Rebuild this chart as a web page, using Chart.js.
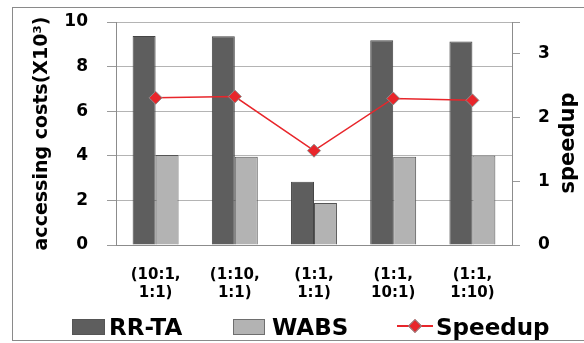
<!DOCTYPE html>
<html>
<head>
<meta charset="utf-8">
<script src="https://cdn.jsdelivr.net/npm/chart.js@4.4.1/dist/chart.umd.min.js"></script>
<style>
  body { margin: 0; background: #fff; }
  #wrap { position: relative; width: 584px; height: 343px; overflow: hidden; font-family: "DejaVu Sans", sans-serif; font-weight: bold; }
  #frame { position: absolute; left: 12px; top: 7px; width: 600px; height: 334px; border: 1px solid #8a8a8a; box-sizing: border-box; }
  canvas { position: absolute; left: 0; top: 0; }
  .lg { position: absolute; font-size: 23px; line-height: 22px; color: #000; }
  .box { position: absolute; width: 33px; height: 16px; top: 319px; }
</style>
</head>
<body>
<div id="wrap">
  <div id="frame"></div>
  <canvas id="grafico" width="584" height="343"></canvas>
  <div class="box" style="left:72px; background:#5e5e5e; border:1px solid #555; box-sizing:border-box;"></div>
  <div class="lg" style="left:109px; top:316px;">RR-TA</div>
  <div class="box" style="left:233px; width:32px; background:#b3b3b3; border:1px solid #6e6e6e; box-sizing:border-box;"></div>
  <div class="lg" style="left:272px; top:316px;">WABS</div>
  <div style="position:absolute; left:397px; top:325px; width:36px; height:2px; background:#e8262b;"></div>
  <div style="position:absolute; left:410px; top:321px; width:8px; height:8px; background:#e8262b; border:1px solid #8c8c8c; transform:rotate(45deg);"></div>
  <div class="lg" style="left:436px; top:316px;">Speedup</div>
</div>
<script>
// categorias (duas linhas por rótulo)
const categorias = [['(10:1,', '1:1)'], ['(1:10,', '1:1)'], ['(1:1,', '1:1)'], ['(1:1,', '10:1)'], ['(1:1,', '1:10)']];
// custos de acesso (x10^3)
const rrta = [9.37, 9.36, 2.84, 9.18, 9.12];
const wabs = [4.04, 3.96, 1.88, 3.96, 4.01];
// speedup (eixo direito)
const speedup = [2.31, 2.33, 1.48, 2.30, 2.27];

const fonte = 'DejaVu Sans';

// título do eixo direito, lido de baixo para cima
const tituloDireito = {
    id: 'tituloDireito',
    afterDraw(chart) {
        const ctx = chart.ctx;
        ctx.save();
        ctx.translate(569, 143);
        ctx.rotate(-Math.PI / 2);
        ctx.font = 'bold 21px "' + fonte + '"';
        ctx.fillStyle = '#000';
        ctx.textAlign = 'center';
        ctx.textBaseline = 'middle';
        ctx.fillText('speedup', 0, 0);
        ctx.restore();
    }
};

const ctx = document.getElementById('grafico').getContext('2d');
new Chart(ctx, {
    type: 'bar',
    data: {
        labels: categorias,
        datasets: [
            {
                type: 'line',
                label: 'Speedup',
                data: speedup,
                yAxisID: 'y2',
                borderColor: '#e8262b',
                backgroundColor: '#e8262b',
                borderWidth: 1.5,
                pointStyle: 'rectRot',
                pointRadius: 6.5,
                pointBackgroundColor: '#e8262b',
                pointBorderColor: '#8c8c8c',
                pointBorderWidth: 1,
                tension: 0,
                order: 0
            },
            {
                label: 'RR-TA',
                data: rrta,
                yAxisID: 'y',
                backgroundColor: '#5e5e5e',
                borderColor: '#454545',
                borderWidth: 1,
                barPercentage: 1,
                categoryPercentage: 0.58,
                order: 1
            },
            {
                label: 'WABS',
                data: wabs,
                yAxisID: 'y',
                backgroundColor: '#b3b3b3',
                borderColor: '#555555',
                borderWidth: 1,
                barPercentage: 1,
                categoryPercentage: 0.58,
                order: 1
            }
        ]
    },
    options: {
        responsive: false,
        animation: false,
        layout: { padding: { top: 22, bottom: 36, left: 0, right: 0 } },
        plugins: {
            legend: { display: false },
            tooltip: { enabled: false }
        },
        scales: {
            x: {
                grid: { display: false },
                border: { display: true, color: '#8c8c8c', width: 1 },
                ticks: {
                    color: '#000',
                    font: { family: fonte, weight: 'bold', size: 15, lineHeight: 1.2 },
                    padding: 13,
                    maxRotation: 0
                },
                afterFit(scale) { scale.height = 62; }
            },
            y: {
                position: 'left',
                min: 0,
                max: 10,
                ticks: {
                    stepSize: 2,
                    color: '#000',
                    padding: 19,
                    font: { family: fonte, weight: 'bold', size: 17 }
                },
                grid: { color: '#b4b4b4', tickLength: 9, tickColor: '#9a9a9a' },
                border: { display: true, color: '#8c8c8c' },
                title: {
                    display: true,
                    text: 'accessing costs(X10³)',
                    color: '#000',
                    font: { family: fonte, weight: 'bold', size: 19 },
                    padding: { top: 31, bottom: 0 }
                },
                afterFit(scale) {
                    scale.width = 116;
                    scale.paddingTop = 10;
                    scale.paddingBottom = 10;
                }
            },
            y2: {
                position: 'right',
                min: 0,
                max: 3.5,
                ticks: {
                    stepSize: 1,
                    color: '#000',
                    padding: 18,
                    font: { family: fonte, weight: 'bold', size: 17 },
                    callback: v => Number.isInteger(v) ? v : ''
                },
                grid: { drawOnChartArea: false, tickLength: 8, color: '#9a9a9a' },
                border: { display: true, color: '#8c8c8c' },
                afterFit(scale) {
                    scale.width = 72;
                    scale.paddingTop = 10;
                    scale.paddingBottom = 10;
                }
            }
        }
    },
    plugins: [tituloDireito]
});
</script>
</body>
</html>
